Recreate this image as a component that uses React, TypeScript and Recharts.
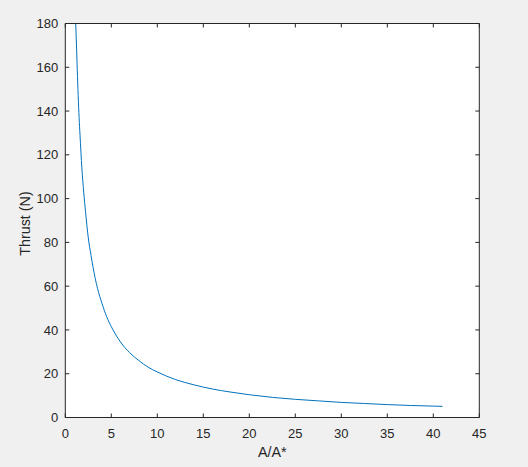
import React from 'react';
import { LineChart, Line, XAxis, YAxis, CartesianGrid, Label } from 'recharts';

const areaRatio = [1.13, 1.2, 1.3, 1.4, 1.5, 1.6, 1.8, 2.0, 2.2, 2.5, 2.8, 3.0, 3.5, 4.0, 4.5, 5.0, 6.0, 7.0, 8.0, 9.0, 10, 12, 14, 16, 18, 20, 22.5, 25, 27.5, 30, 32.5, 35, 37.5, 40, 41];
const thrust = [180, 172, 159, 147, 137, 129, 114, 103, 94, 82, 74, 69, 59, 52, 46, 41.5, 34.5, 29.6, 26, 23, 20.8, 17.3, 14.9, 13, 11.6, 10.4, 9.2, 8.3, 7.6, 6.9, 6.4, 5.9, 5.5, 5.2, 5.1];
const xTicks = [0, 5, 10, 15, 20, 25, 30, 35, 40, 45];
const yTicks = [0, 20, 40, 60, 80, 100, 120, 140, 160, 180];

const data = areaRatio.map((x, i) => ({ x, t: thrust[i] }));

const AX = '#262626';
const FONT = 'Liberation Sans, Arial, Helvetica, sans-serif';
const TL = 4;

const BottomTick = (props: any) => {
  const { x, y, payload } = props;
  return (
    <g>
      <line x1={x} y1={y} x2={x} y2={y - TL} stroke={AX} strokeWidth={1} />
      <text x={x} y={y + 20} textAnchor="middle" fill={AX} fontSize={13} fontFamily={FONT}>
        {payload.value}
      </text>
    </g>
  );
};

const LeftTick = (props: any) => {
  const { x, y, payload } = props;
  return (
    <g>
      <line x1={x} y1={y} x2={x + TL} y2={y} stroke={AX} strokeWidth={1} />
      <text x={x - 7} y={y + 4.6} textAnchor="end" fill={AX} fontSize={13} fontFamily={FONT}>
        {payload.value}
      </text>
    </g>
  );
};

const TopTick = (props: any) => {
  const { x, y } = props;
  return <line x1={x} y1={y} x2={x} y2={y + TL} stroke={AX} strokeWidth={1} />;
};

const RightTick = (props: any) => {
  const { x, y } = props;
  return <line x1={x} y1={y} x2={x - TL} y2={y} stroke={AX} strokeWidth={1} />;
};

const YLabel = (props: any) => {
  const vb = props.viewBox || {};
  const cy = (vb.y ?? 0) + (vb.height ?? 0) / 2 + 3;
  return (
    <text
      transform={`translate(24.5,${cy}) rotate(-90)`}
      textAnchor="middle"
      dy="0.355em"
      fill={AX}
      fontSize={14.3}
      fontFamily={FONT}
    >
      Thrust (N)
    </text>
  );
};

export default function App() {
  return (
    <div style={{ position: 'absolute', left: 0, top: 0, width: 528, height: 467, background: '#f0f0f0' }}>
      <LineChart width={528} height={467} data={data} margin={{ top: 0, right: 0, bottom: 0, left: 0 }}>
        <CartesianGrid fill="#ffffff" stroke="none" />
        <XAxis
          dataKey="x"
          type="number"
          domain={[0, 45]}
          ticks={xTicks}
          allowDataOverflow
          height={49.5}
          tickSize={0}
          tickMargin={0}
          tickLine={false}
          axisLine={{ stroke: AX }}
          tick={<BottomTick />}
          interval={0}
        >
          <Label value="A/A*" position="insideBottom" offset={10.5} fill={AX} fontSize={14.3} fontFamily={FONT} />
        </XAxis>
        <XAxis
          xAxisId="top"
          orientation="top"
          dataKey="x"
          type="number"
          domain={[0, 45]}
          ticks={xTicks}
          allowDataOverflow
          height={23.5}
          tickSize={0}
          tickMargin={0}
          tickLine={false}
          axisLine={{ stroke: AX }}
          tick={<TopTick />}
          interval={0}
        />
        <YAxis
          type="number"
          domain={[0, 180]}
          ticks={yTicks}
          allowDataOverflow
          width={65.3}
          tickSize={0}
          tickMargin={0}
          tickLine={false}
          axisLine={{ stroke: AX }}
          tick={<LeftTick />}
          interval={0}
        >
          <Label content={<YLabel />} />
        </YAxis>
        <YAxis
          yAxisId="right"
          orientation="right"
          type="number"
          domain={[0, 180]}
          ticks={yTicks}
          allowDataOverflow
          width={48.7}
          tickSize={0}
          tickMargin={0}
          tickLine={false}
          axisLine={{ stroke: AX }}
          tick={<RightTick />}
          interval={0}
        />
        <Line
          type="monotone"
          dataKey="t"
          stroke="#0072BD"
          strokeWidth={1}
          dot={false}
          activeDot={false}
          isAnimationActive={false}
        />
      </LineChart>
    </div>
  );
}
